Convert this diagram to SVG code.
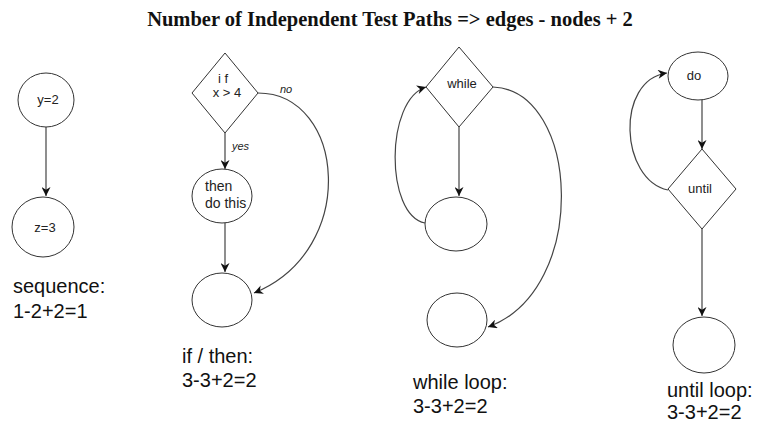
<svg xmlns="http://www.w3.org/2000/svg" width="757" height="424" viewBox="0 0 757 424">
<defs>
<marker id="arr" viewBox="0 0 10 10" refX="10" refY="5" markerWidth="10" markerHeight="9" markerUnits="userSpaceOnUse" orient="auto">
<path d="M0,0 L10,5 L0,10 L3,5 z" fill="#111"/>
</marker>
</defs>
<style>
.shape{fill:#fff;stroke:#333;stroke-width:1}
.edge{fill:none;stroke:#444;stroke-width:1.2;marker-end:url(#arr)}
.lbl{font-family:"Liberation Sans",Arial,sans-serif;font-size:13px;fill:#222}
.small{font-family:"Liberation Sans",Arial,sans-serif;font-size:11px;font-style:italic;fill:#222}
.cap{font-family:"Liberation Sans",Arial,sans-serif;font-size:20px;fill:#111}
.title{font-family:"Liberation Serif","Times New Roman",serif;font-size:20.5px;font-weight:bold;fill:#111}
</style>
<rect width="757" height="424" fill="#fff"/>
<text class="title" x="390" y="26" text-anchor="middle">Number of Independent Test Paths =&gt; edges - nodes + 2</text>

<g id="connectors">
<line class="edge" x1="46" y1="127" x2="46" y2="196"/>
<line class="edge" x1="225" y1="133" x2="225" y2="169"/>
<line class="edge" x1="225" y1="223" x2="225" y2="272"/>
<path class="edge" d="M258,93 C345,93 360,250 254,293"/>
<line class="edge" x1="459" y1="127" x2="459" y2="196"/>
<path class="edge" d="M425,223 C385,215 385,100 426,87"/>
<path class="edge" d="M493,87 C580,90 590,290 488,327"/>
<line class="edge" x1="702" y1="100" x2="702" y2="149"/>
<path class="edge" d="M668,190 C620,180 615,80 667,73"/>
<line class="edge" x1="702" y1="229" x2="702" y2="316"/>
</g>

<g id="n-y2"><ellipse class="shape" cx="46" cy="100" rx="28" ry="27"/><text class="lbl" x="48" y="104" text-anchor="middle">y=2</text></g>
<g id="n-z3"><ellipse class="shape" cx="43" cy="227" rx="31" ry="30"/><text class="lbl" x="45" y="232" text-anchor="middle">z=3</text></g>
<text class="cap" x="13" y="293">sequence:</text>
<text class="cap" x="13" y="318">1-2+2=1</text>

<g id="n-if"><polygon class="shape" points="225,53 258,93 225,133 192,93"/>
<text class="lbl" x="223" y="83" text-anchor="middle">i f</text>
<text class="lbl" x="227" y="97" text-anchor="middle">x &gt; 4</text></g>
<text class="small" x="280" y="93">no</text>
<text class="small" x="232" y="150">yes</text>
<g id="n-then"><ellipse class="shape" cx="222" cy="196" rx="30" ry="27"/>
<text class="lbl" x="205" y="191" style="font-size:14px">then</text>
<text class="lbl" x="205" y="208" style="font-size:14px">do this</text></g>
<g id="n-ifend"><ellipse class="shape" cx="222" cy="300" rx="30" ry="27"/></g>
<text class="cap" x="182" y="363">if / then:</text>
<text class="cap" x="182" y="387">3-3+2=2</text>

<g id="n-while"><polygon class="shape" points="459,47 493,87 459,127 426,87"/>
<text class="lbl" x="462" y="88" text-anchor="middle">while</text></g>
<g id="n-body"><ellipse class="shape" cx="456" cy="224" rx="31" ry="27"/></g>
<g id="n-wend"><ellipse class="shape" cx="457" cy="320" rx="30" ry="27"/></g>
<text class="cap" x="413" y="389">while loop:</text>
<text class="cap" x="413" y="413">3-3+2=2</text>

<g id="n-do"><ellipse class="shape" cx="698" cy="76" rx="30" ry="24"/>
<text class="lbl" x="694" y="80" text-anchor="middle">do</text></g>
<g id="n-until"><polygon class="shape" points="702,149 736,189 702,229 668,189"/>
<text class="lbl" x="700" y="193" text-anchor="middle">until</text></g>
<g id="n-uend"><ellipse class="shape" cx="704" cy="345" rx="31" ry="28"/></g>
<text class="cap" x="667" y="397">until loop:</text>
<text class="cap" x="667" y="419">3-3+2=2</text>
</svg>
